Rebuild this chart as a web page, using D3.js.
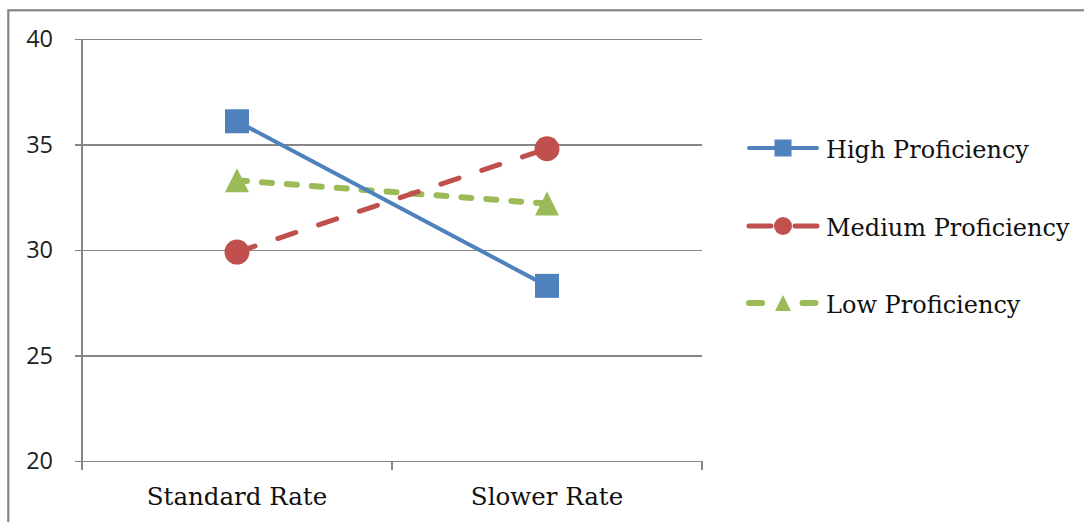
<!DOCTYPE html>
<html>
<head>
<meta charset="utf-8">
<script src="https://cdn.jsdelivr.net/npm/d3@7/dist/d3.min.js"></script>
<style>
  html, body { margin: 0; padding: 0; background: #fff; }
  svg { display: block; }
</style>
</head>
<body>
<svg id="chart" width="1084" height="522"></svg>
<script>
// Categories along the x axis
const categories = ["Standard Rate", "Slower Rate"];

// Series names and their values per category
const seriesNames = ["High Proficiency", "Medium Proficiency", "Low Proficiency"];
const highValues = [36.1, 28.3];
const mediumValues = [29.9, 34.8];
const lowValues = [33.3, 32.2];

// Y axis tick values
const yTicks = [20, 25, 30, 35, 40];

const series = [
  { name: seriesNames[0], values: highValues, color: "#4F81BD", width: 4, dash: null, legendDash: null, marker: "square" },
  { name: seriesNames[1], values: mediumValues, color: "#C0504D", width: 5, dash: "19,24", legendDash: "22,24", marker: "circle" },
  { name: seriesNames[2], values: lowValues, color: "#9BBB59", width: 6, dash: "10,15", legendDash: "13,40.5", marker: "triangle" }
];

const svg = d3.select("#chart");
const plot = { left: 82, right: 702, top: 39, bottom: 461 };
const axisColor = "#868686";

// Outer chart frame
svg.append("rect")
  .attr("x", 8.3).attr("y", 10.3)
  .attr("width", 1200).attr("height", 700)
  .attr("fill", "#fff")
  .attr("stroke", axisColor)
  .attr("stroke-width", 2.2);

const x = d3.scalePoint().domain(categories).range([plot.left, plot.right]).padding(0.5);
const y = d3.scaleLinear().domain([20, 40]).range([plot.bottom, plot.top]);

// Horizontal gridlines with the y axis labels
const yAxis = d3.axisLeft(y)
  .tickValues(yTicks)
  .tickSize(-(plot.right - plot.left))
  .tickPadding(29)
  .tickFormat(d3.format("d"));

const gy = svg.append("g")
  .attr("transform", `translate(${plot.left},0)`)
  .call(yAxis);
gy.select(".domain").remove();
gy.selectAll(".tick line")
  .attr("x1", -7)
  .attr("stroke", axisColor)
  .attr("stroke-width", 1.2)
  .attr("shape-rendering", "crispEdges");
gy.selectAll(".tick text")
  .attr("font-family", "'Open Sans', 'Liberation Sans', sans-serif")
  .attr("font-size", 23.5)
  .attr("fill", "#222");

// Vertical axis line
svg.append("line")
  .attr("x1", plot.left).attr("x2", plot.left)
  .attr("y1", plot.top).attr("y2", plot.bottom + 9)
  .attr("stroke", axisColor).attr("stroke-width", 1.2)
  .attr("shape-rendering", "crispEdges");

// Category axis along the bottom, tick marks between the categories
const step = x.step();
const boundaries = [plot.left, plot.left + step, plot.right];
svg.append("g").selectAll("line")
  .data(boundaries)
  .join("line")
  .attr("x1", d => d).attr("x2", d => d)
  .attr("y1", plot.bottom).attr("y2", plot.bottom + 9)
  .attr("stroke", axisColor).attr("stroke-width", 1.2)
  .attr("shape-rendering", "crispEdges");

svg.append("g").selectAll("text")
  .data(categories)
  .join("text")
  .attr("x", d => x(d))
  .attr("y", plot.bottom + 44)
  .attr("text-anchor", "middle")
  .attr("font-family", "'DejaVu Serif', serif")
  .attr("font-size", 24.5)
  .attr("fill", "#111")
  .text(d => d);

// Marker shapes
function drawMarker(g, type, cx, cy, size, color) {
  if (type === "square") {
    g.append("rect")
      .attr("x", cx - size / 2).attr("y", cy - size / 2)
      .attr("width", size).attr("height", size)
      .attr("fill", color);
  } else if (type === "circle") {
    g.append("circle")
      .attr("cx", cx).attr("cy", cy).attr("r", size / 2 + 0.5)
      .attr("fill", color);
  } else {
    const h = size;
    g.append("path")
      .attr("d", `M${cx},${cy - h / 2}L${cx + size / 2},${cy + h / 2}L${cx - size / 2},${cy + h / 2}Z`)
      .attr("fill", color);
  }
}

// Series lines and markers (drawn from the last series to the first)
const line = d3.line()
  .x((d, i) => x(categories[i]))
  .y(d => y(d));

series.slice().reverse().forEach(s => {
  const g = svg.append("g");
  g.append("path")
    .datum(s.values)
    .attr("d", line)
    .attr("fill", "none")
    .attr("stroke", s.color)
    .attr("stroke-width", s.width)
    .attr("stroke-linecap", "round")
    .attr("stroke-dasharray", s.dash);
  s.values.forEach((v, i) => drawMarker(g, s.marker, x(categories[i]), y(v), 24, s.color));
});

// Legend
const legendRows = [148, 226, 303];
const legend = svg.append("g");
series.forEach((s, i) => {
  const ly = legendRows[i];
  const g = legend.append("g");
  g.append("line")
    .attr("x1", 749).attr("x2", 817)
    .attr("y1", ly).attr("y2", ly)
    .attr("stroke", s.color)
    .attr("stroke-width", s.width)
    .attr("stroke-linecap", "round")
    .attr("stroke-dasharray", s.legendDash);
  drawMarker(g, s.marker, 783, ly, s.marker === "triangle" ? 16 : 17, s.color);
  g.append("text")
    .attr("x", 826)
    .attr("y", ly + 10)
    .attr("font-family", "'DejaVu Serif', serif")
    .attr("font-size", 24)
    .attr("fill", "#111")
    .text(s.name);
});
</script>
</body>
</html>
